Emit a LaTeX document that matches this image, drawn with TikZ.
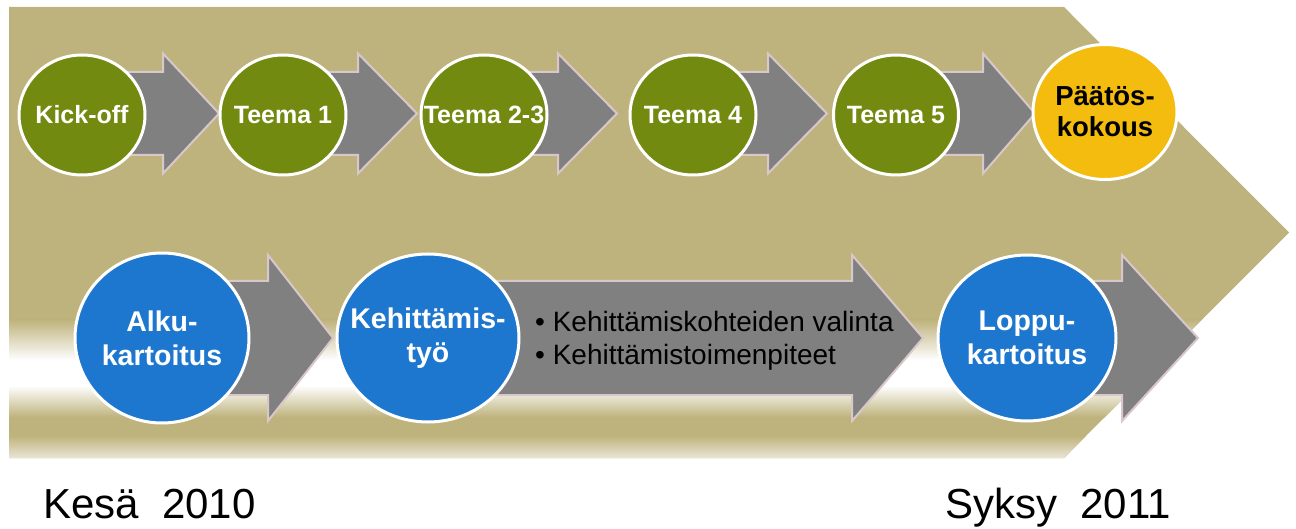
\documentclass[tikz,border=0pt]{standalone}
\usepackage{fontspec}
\setmainfont{Liberation Sans}
\usetikzlibrary{shapes.geometric}
\definecolor{khaki}{HTML}{BFB37D}
\definecolor{khakilight}{HTML}{ECE8DA}
\definecolor{olivegreen}{HTML}{738A11}
\definecolor{bluecirc}{HTML}{1E77CF}
\definecolor{goldcirc}{HTML}{F3BC0F}
\definecolor{arrowgray}{HTML}{808080}
\definecolor{arrowedge}{HTML}{D8C8CB}
\newcommand\blockarrow[6]{%
  \draw[barrow] (#1,#4-#5) -- (#2,#4-#5) -- (#2,#4-#6) -- (#3,#4) -- (#2,#4+#6) -- (#2,#4+#5) -- (#1,#4+#5) -- cycle;}
\begin{document}
\begin{tikzpicture}[x=1pt,y=-1pt,
  barrow/.style={fill=arrowgray,draw=arrowedge,line width=2pt,line join=miter},
  circ/.style={ellipse,draw=white,line width=3pt,inner sep=0pt},
  ctext/.style={align=center,inner sep=0pt},
  toptext/.style={ctext,text=white,font=\bfseries\fontsize{25}{30}\selectfont},
  bottext/.style={ctext,text=white,font=\bfseries\fontsize{28.5}{34}\selectfont},
  topcirc/.style={circ,fill=olivegreen,minimum width=126pt,minimum height=120pt},
  botcirc/.style={circ,fill=bluecirc,minimum height=168pt},
  datelabel/.style={anchor=base west,inner sep=0pt,font=\fontsize{42}{50}\selectfont}]
\useasboundingbox (0,0) rectangle (1296,529);
\fill[white] (0,0) rectangle (1296,529);
% background arrow
\fill[khaki] (9,7) -- (1064,7) -- (1289,232.5) -- (1064,458) -- (9,458) -- cycle;
\begin{scope}
  \clip (9,7) -- (1064,7) -- (1289,232.5) -- (1064,458) -- (9,458) -- cycle;
  \shade[top color=khaki,bottom color=white] (0,320) rectangle (1300,360);
  \fill[white] (0,359.5) rectangle (1300,386);
  \shade[top color=white,bottom color=khaki] (0,385.5) rectangle (1300,417);
  \shade[top color=khaki,bottom color=khakilight] (0,436) rectangle (1300,459);
\end{scope}
% top row arrows
\blockarrow{82}{163}{219}{113.5}{41.5}{60}
\blockarrow{283}{358}{417}{113.5}{41.5}{60}
\blockarrow{484}{558}{617}{113.5}{41.5}{60}
\blockarrow{693}{768}{827}{113.5}{41.5}{60}
\blockarrow{896}{983}{1035}{113.5}{41.5}{60}
% bottom row arrows
\blockarrow{162}{268}{333}{338}{57}{83}
\blockarrow{428}{852}{923}{338}{57}{83}
\blockarrow{1027}{1122}{1198}{338}{57}{83}
% top circles
\node[topcirc] (kick) at (82,115) {};
\node[toptext] (kickt) at (kick) {Kick-off};
\node[topcirc] (t1) at (283,115) {};
\node[toptext] (t1t) at (t1) {Teema 1};
\node[topcirc] (t23) at (484,115) {};
\node[toptext] (t23t) at (t23) {Teema 2-3};
\node[topcirc] (t4) at (693,115) {};
\node[toptext] (t4t) at (t4) {Teema 4};
\node[topcirc,minimum width=125pt] (t5) at (896,115) {};
\node[toptext] (t5t) at (t5) {Teema 5};
\node[circ,fill=goldcirc,minimum width=144pt,minimum height=135pt] (paatos) at (1105,112) {};
\node[ctext,font=\bfseries\fontsize{27.5}{31}\selectfont] (paatost) at (paatos) {Päätös-\\kokous};
% bottom circles
\node[botcirc,minimum width=174pt,minimum height=170pt] (alku) at (162,338) {};
\node[bottext] (alkut) at (alku) {Alku-\\kartoitus};
\node[botcirc,minimum width=182pt] (kehtyo) at (428,338) {};
\node[bottext] (kehtyot) at (kehtyo) {Kehittämis-\\työ};
\node[botcirc,minimum width=178pt,minimum height=166pt] (loppu) at (1027,338) {};
\node[bottext] (lopput) at (loppu) {Loppu-\\kartoitus};
% bullet text
\node[anchor=west,align=left,inner sep=0pt,font=\fontsize{28}{33}\selectfont] (bullets) at (535,341) {• Kehittämiskohteiden valinta\\• Kehittämistoimenpiteet};
% dates
\node[datelabel] (kesa) at (43,518) {Kesä\ \ 2010};
\node[datelabel] (syksy) at (945,518) {Syksy\ \ 2011};
\end{tikzpicture}
\end{document}
